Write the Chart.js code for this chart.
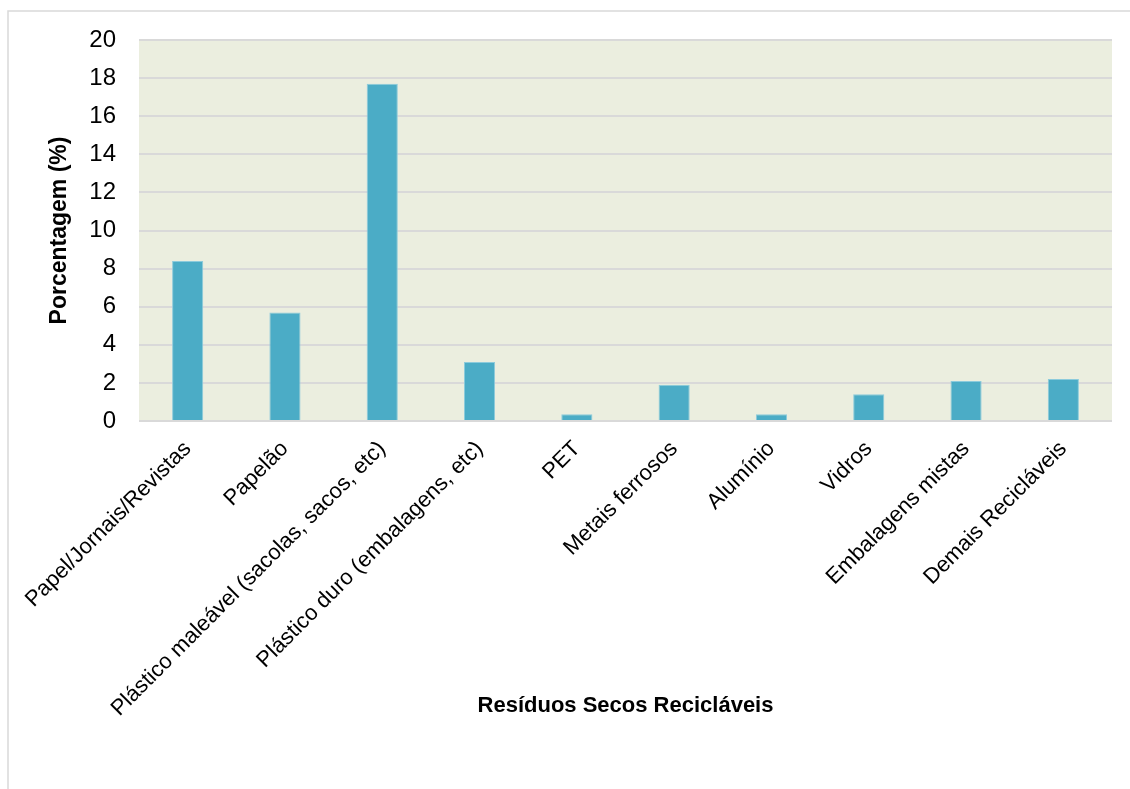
<!DOCTYPE html>
<html>
<head>
<meta charset="utf-8">
<script src="https://cdn.jsdelivr.net/npm/chart.js@4.4.1/dist/chart.umd.min.js"></script>
<style>
  html, body { margin: 0; padding: 0; background: #fff; }
</style>
</head>
<body>
<canvas id="residuos" width="1130" height="789"></canvas>
<script>
const categories = [
  'Papel/Jornais/Revistas',
  'Papelão',
  'Plástico maleável (sacolas, sacos, etc)',
  'Plástico duro (embalagens, etc)',
  'PET',
  'Metais ferrosos',
  'Alumínio',
  'Vidros',
  'Embalagens mistas',
  'Demais Recicláveis'
];
const percentages = [8.4, 5.7, 17.7, 3.1, 0.35, 1.9, 0.35, 1.4, 2.1, 2.2];
const yMin = 0;
const yMax = 20;
const yStep = 2;

const fontFamily = "'Liberation Sans', Arial, sans-serif";

// white page, thin frame on top/left and the greenish plot area
const plotBackground = {
  id: 'plotBackground',
  beforeDraw(chart) {
    const ctx = chart.ctx;
    const a = chart.chartArea;
    ctx.save();
    ctx.fillStyle = '#ffffff';
    ctx.fillRect(0, 0, chart.width, chart.height);
    ctx.strokeStyle = '#d9d9d9';
    ctx.lineWidth = 1.5;
    ctx.beginPath();
    ctx.moveTo(8, chart.height);
    ctx.lineTo(8, 11);
    ctx.lineTo(chart.width, 11);
    ctx.stroke();
    ctx.fillStyle = '#ebeedf';
    ctx.fillRect(a.left, a.top, a.right - a.left, a.bottom - a.top);
    ctx.restore();
  }
};

new Chart(document.getElementById('residuos'), {
  type: 'bar',
  data: {
    labels: categories,
    datasets: [{
      data: percentages,
      backgroundColor: '#4bacc6',
      borderColor: '#8ccbdc',
      borderWidth: 1,
      barPercentage: 0.32,
      categoryPercentage: 1
    }]
  },
  options: {
    responsive: false,
    animation: false,
    layout: { padding: { left: 10, right: 18, top: 40, bottom: 0 } },
    plugins: {
      legend: { display: false },
      tooltip: { enabled: false }
    },
    scales: {
      x: {
        grid: { display: false },
        border: { display: false },
        ticks: {
          color: '#000',
          font: { family: fontFamily, size: 22 },
          minRotation: 45,
          maxRotation: 45,
          padding: 7
        },
        title: {
          display: true,
          text: 'Resíduos Secos Recicláveis',
          color: '#000',
          font: { family: fontFamily, size: 22, weight: 'bold' },
          padding: { top: 0, bottom: 70 }
        },
        afterFit(scale) { scale.height = 368; }
      },
      y: {
        min: yMin,
        max: yMax,
        grid: { color: '#d9d9d9', lineWidth: 2, drawTicks: false },
        border: { display: false },
        ticks: {
          stepSize: yStep,
          color: '#000',
          font: { family: fontFamily, size: 24 },
          padding: 23
        },
        title: {
          display: true,
          text: 'Porcentagem (%)',
          color: '#000',
          font: { family: fontFamily, size: 23, weight: 'bold' },
          padding: { top: 36, bottom: 0 }
        },
        afterFit(scale) { scale.width = 129; }
      }
    }
  },
  plugins: [plotBackground]
});
</script>
</body>
</html>
